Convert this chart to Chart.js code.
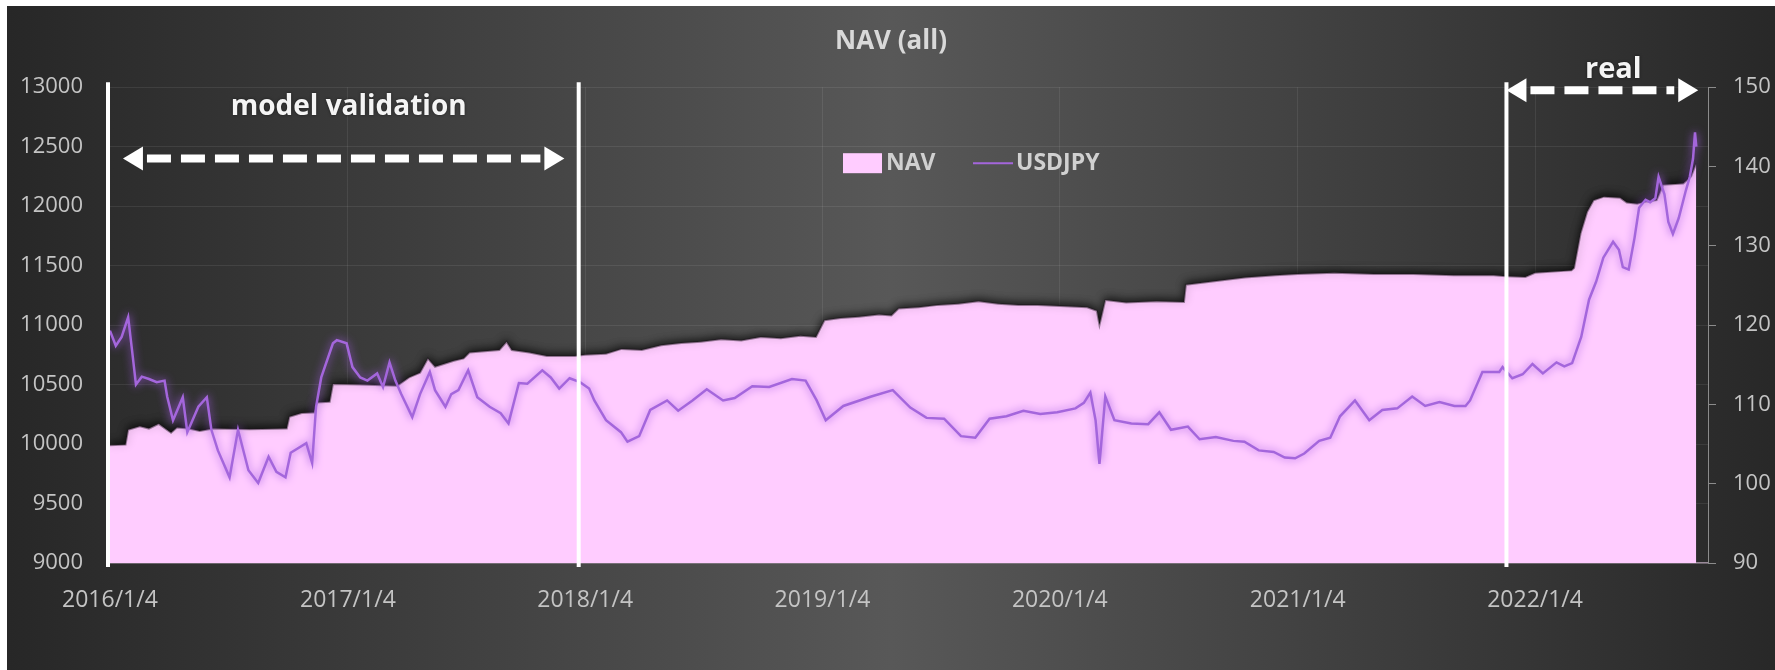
<!DOCTYPE html>
<html>
<head>
<meta charset="utf-8">
<title>NAV (all)</title>
<script src="https://cdn.jsdelivr.net/npm/chart.js@4.4.1/dist/chart.umd.min.js"></script>
<style>
  html, body { margin: 0; padding: 0; background: #ffffff; }
  #wrap { position: absolute; left: 7px; top: 6px; width: 1768px; height: 664px; }
</style>
</head>
<body>
<div id="wrap"><canvas id="navChart"></canvas></div>
<script>
// NAV (area, left axis)
const navDates = [
  "2016/1/4", "2016/1/28", "2016/2/1", "2016/2/19", "2016/3/4", "2016/3/19", "2016/4/7", "2016/4/16",
  "2016/5/4", "2016/5/21", "2016/6/11", "2016/8/6", "2016/10/2", "2016/10/6", "2016/10/25", "2016/11/13",
  "2016/11/17", "2016/12/7", "2016/12/12", "2017/1/22", "2017/3/21", "2017/4/8", "2017/4/25", "2017/5/7",
  "2017/5/18", "2017/6/16", "2017/7/1", "2017/7/10", "2017/8/25", "2017/9/5", "2017/9/13", "2017/10/10",
  "2017/11/6", "2017/12/19", "2018/1/4", "2018/2/5", "2018/3/1", "2018/4/1", "2018/5/1", "2018/6/1",
  "2018/7/1", "2018/8/1", "2018/9/1", "2018/10/1", "2018/11/1", "2018/12/1", "2018/12/25", "2019/1/7",
  "2019/2/1", "2019/3/1", "2019/4/1", "2019/4/20", "2019/5/1", "2019/6/1", "2019/7/1", "2019/8/1",
  "2019/9/1", "2019/10/1", "2019/11/1", "2019/12/1", "2020/1/4", "2020/2/15", "2020/3/1", "2020/3/5",
  "2020/3/14", "2020/4/15", "2020/6/1", "2020/7/13", "2020/7/16", "2020/9/1", "2020/10/15", "2020/12/1",
  "2021/1/4", "2021/3/1", "2021/5/1", "2021/7/1", "2021/9/1", "2021/11/1", "2021/11/20", "2021/12/20",
  "2022/1/4", "2022/3/1", "2022/3/5", "2022/3/15", "2022/3/25", "2022/4/4", "2022/4/20", "2022/5/15",
  "2022/5/25", "2022/6/10", "2022/6/25", "2022/7/10", "2022/7/20", "2022/8/20", "2022/9/1", "2022/9/9"
];
const navValues = [
  9990, 9995, 10120, 10150, 10130, 10170, 10095, 10140,
  10130, 10110, 10130, 10125, 10130, 10230, 10260, 10265,
  10350, 10355, 10505, 10500, 10490, 10560, 10600, 10720,
  10650, 10700, 10720, 10770, 10790, 10860, 10790, 10770,
  10740, 10740, 10750, 10760, 10800, 10790, 10830, 10850,
  10860, 10880, 10870, 10900, 10890, 10910, 10900, 11040,
  11060, 11070, 11090, 11080, 11140, 11150, 11170, 11180,
  11200, 11180, 11170, 11170, 11160, 11150, 11120, 11000,
  11210, 11190, 11200, 11195, 11340, 11370, 11400, 11420,
  11430, 11440, 11430, 11430, 11420, 11420, 11410, 11405,
  11440, 11460, 11480, 11770, 11950, 12050, 12080, 12070,
  12030, 12020, 12040, 12050, 12180, 12190, 12250, 12360
];

// USDJPY (line, right axis)
const fxDates = [
  "2016/1/4", "2016/1/13", "2016/1/22", "2016/2/1", "2016/2/7", "2016/2/13", "2016/2/22", "2016/3/4",
  "2016/3/16", "2016/3/28", "2016/4/1", "2016/4/10", "2016/4/25", "2016/5/2", "2016/5/19", "2016/6/1",
  "2016/6/8", "2016/6/18", "2016/7/6", "2016/7/19", "2016/8/4", "2016/8/19", "2016/9/4", "2016/9/16",
  "2016/9/30", "2016/10/8", "2016/11/1", "2016/11/10", "2016/11/16", "2016/11/24", "2016/12/12", "2016/12/18",
  "2017/1/2", "2017/1/11", "2017/1/23", "2017/2/3", "2017/2/18", "2017/2/27", "2017/3/9", "2017/3/18",
  "2017/3/27", "2017/4/13", "2017/4/25", "2017/5/10", "2017/5/18", "2017/6/3", "2017/6/12", "2017/6/23",
  "2017/7/8", "2017/7/22", "2017/8/10", "2017/8/27", "2017/9/8", "2017/9/24", "2017/10/7", "2017/10/30",
  "2017/11/12", "2017/11/25", "2017/12/11", "2017/12/27", "2018/1/10", "2018/1/18", "2018/2/5", "2018/2/28",
  "2018/3/10", "2018/3/28", "2018/4/14", "2018/5/10", "2018/5/27", "2018/6/18", "2018/7/10", "2018/8/4",
  "2018/8/22", "2018/9/18", "2018/10/14", "2018/11/18", "2018/12/9", "2018/12/26", "2019/1/9", "2019/2/5",
  "2019/3/20", "2019/4/22", "2019/5/19", "2019/6/13", "2019/7/10", "2019/8/5", "2019/8/27", "2019/9/18",
  "2019/10/14", "2019/11/9", "2019/12/5", "2019/12/31", "2020/1/28", "2020/2/10", "2020/2/20", "2020/2/28",
  "2020/3/5", "2020/3/14", "2020/3/28", "2020/4/23", "2020/5/19", "2020/6/5", "2020/6/23", "2020/7/19",
  "2020/8/6", "2020/8/31", "2020/9/27", "2020/10/14", "2020/11/5", "2020/11/28", "2020/12/15", "2020/12/31",
  "2021/1/14", "2021/2/6", "2021/2/23", "2021/3/10", "2021/4/2", "2021/4/24", "2021/5/14", "2021/6/6",
  "2021/6/29", "2021/7/19", "2021/8/10", "2021/9/2", "2021/9/19", "2021/9/26", "2021/10/15", "2021/11/10",
  "2021/11/15", "2021/11/30", "2021/12/16", "2021/12/31", "2022/1/16", "2022/2/6", "2022/2/18", "2022/3/2",
  "2022/3/16", "2022/3/28", "2022/4/8", "2022/4/19", "2022/5/4", "2022/5/13", "2022/5/19", "2022/5/28",
  "2022/6/6", "2022/6/13", "2022/6/23", "2022/6/30", "2022/7/8", "2022/7/13", "2022/7/22", "2022/7/28",
  "2022/8/4", "2022/8/13", "2022/8/24", "2022/8/30", "2022/9/4", "2022/9/7", "2022/9/9"
];
const fxValues = [
  119.3, 117.4, 118.5, 121.0, 116.8, 112.5, 113.5, 113.2,
  112.8, 113.0, 111.0, 108.0, 110.9, 106.5, 109.7, 110.9,
  106.8, 104.2, 100.8, 106.8, 101.7, 100.1, 103.4, 101.5,
  100.8, 103.9, 105.1, 102.6, 109.7, 113.4, 117.7, 118.1,
  117.7, 114.7, 113.4, 113.0, 113.9, 112.2, 115.3, 113.0,
  111.3, 108.4, 111.3, 114.1, 111.8, 109.7, 111.3, 111.8,
  114.3, 110.9, 109.7, 108.9, 107.6, 112.7, 112.6, 114.3,
  113.4, 112.0, 113.3, 112.8, 112.0, 110.5, 108.0, 106.5,
  105.3, 106.0, 109.3, 110.5, 109.2, 110.5, 111.9, 110.5,
  110.8, 112.3, 112.2, 113.2, 113.0, 110.5, 108.0, 109.8,
  111.0, 111.8, 109.6, 108.3, 108.2, 106.0, 105.8, 108.2,
  108.5, 109.2, 108.8, 109.0, 109.5, 110.2, 111.5, 108.0,
  102.5, 111.0, 108.0, 107.6, 107.5, 109.0, 106.8, 107.2,
  105.6, 105.9, 105.4, 105.3, 104.2, 104.0, 103.3, 103.2,
  103.8, 105.4, 105.8, 108.5, 110.5, 108.0, 109.3, 109.5,
  111.0, 109.8, 110.3, 109.8, 109.8, 110.5, 114.1, 114.1,
  114.7, 113.3, 113.8, 115.1, 113.9, 115.3, 114.8, 115.2,
  118.5, 123.2, 125.5, 128.5, 130.5, 129.5, 127.3, 127.0,
  131.0, 134.8, 135.8, 135.5, 136.0, 138.7, 136.5, 133.0,
  131.5, 133.5, 137.0, 138.7, 141.0, 144.3, 142.5
];

const yearTicks = ["2016/1/4", "2017/1/4", "2018/1/4", "2019/1/4", "2020/1/4", "2021/1/4", "2022/1/4"];
const navTicks = [9000, 9500, 10000, 10500, 11000, 11500, 12000, 12500, 13000];
const fxTicks = [90, 100, 110, 120, 130, 140, 150];

// period markers (white vertical lines) and the two dashed arrows
const periodLines = ["2016/1/1", "2017/12/25", "2021/11/21"];
const validationArrow = ["2016/1/24", "2017/12/3"];
const realArrow = ["2021/11/21", "2022/9/12"];

const BASE = Date.UTC(2016, 0, 4);
function toDay(s) {
  const [y, m, d] = s.split("/").map(Number);
  return (Date.UTC(y, m - 1, d) - BASE) / 86400000;
}

const FONT = "'Open Sans', 'DejaVu Sans', sans-serif";
const LABEL = "#c4c4c4";
const PINK = "#ffccff";
const PURPLE = "#a466dc";

const bgPlugin = {
  id: "bg",
  beforeDraw(chart) {
    const { ctx, width, height } = chart;
    const g = ctx.createLinearGradient(0, 0, width, 0);
    g.addColorStop(0, "#272727");
    g.addColorStop(0.5, "#585858");
    g.addColorStop(1, "#282828");
    ctx.save();
    ctx.fillStyle = g;
    ctx.fillRect(0, 0, width, height);
    ctx.restore();
  },
};

// shadow under the NAV area, soft glow around the USDJPY line
const glowPlugin = {
  id: "glow",
  beforeDatasetsDraw(chart) {
    const c = chart.ctx;
    c.save();
    c.shadowColor = "rgba(0,0,0,0.75)";
    c.shadowBlur = 8;
    c.shadowOffsetY = -2;
  },
  beforeDatasetDraw(chart, args) {
    if (args.index === 1) {
      const c = chart.ctx;
      c.shadowColor = "rgba(160,90,225,1)";
      c.shadowBlur = 9;
      c.shadowOffsetY = 0;
    }
  },
  afterDatasetsDraw(chart) {
    chart.ctx.restore();
  },
};

function arrow(ctx, x1, x2, y) {
  const head = 20, half = 12;
  ctx.save();
  ctx.strokeStyle = "#ffffff";
  ctx.fillStyle = "#ffffff";
  ctx.lineWidth = 8;
  ctx.setLineDash([24, 10]);
  ctx.beginPath();
  ctx.moveTo(x1 + head + 4, y);
  ctx.lineTo(x2 - head - 4, y);
  ctx.stroke();
  ctx.setLineDash([]);
  ctx.beginPath();
  ctx.moveTo(x1, y);
  ctx.lineTo(x1 + head, y - half);
  ctx.lineTo(x1 + head, y + half);
  ctx.closePath();
  ctx.fill();
  ctx.beginPath();
  ctx.moveTo(x2, y);
  ctx.lineTo(x2 - head, y - half);
  ctx.lineTo(x2 - head, y + half);
  ctx.closePath();
  ctx.fill();
  ctx.restore();
}

const notesPlugin = {
  id: "notes",
  afterDraw(chart) {
    const { ctx, chartArea } = chart;
    const xs = chart.scales.x;
    const ny = chart.scales.nav;
    ctx.save();
    ctx.strokeStyle = "#ffffff";
    ctx.lineWidth = 4;
    periodLines.forEach((d) => {
      const px = Math.max(xs.getPixelForValue(toDay(d)), chartArea.left);
      ctx.beginPath();
      ctx.moveTo(px, chartArea.top - 5);
      ctx.lineTo(px, chartArea.bottom + 4);
      ctx.stroke();
    });

    const va1 = xs.getPixelForValue(toDay(validationArrow[0]));
    const va2 = xs.getPixelForValue(toDay(validationArrow[1]));
    arrow(ctx, va1, va2, ny.getPixelForValue(12400));
    const ra1 = xs.getPixelForValue(toDay(realArrow[0]));
    const ra2 = xs.getPixelForValue(toDay(realArrow[1]));
    arrow(ctx, ra1, ra2, ny.getPixelForValue(12975));

    ctx.fillStyle = "#f4f4f4";
    ctx.shadowColor = "rgba(0,0,0,0.5)";
    ctx.shadowBlur = 3;
    ctx.textAlign = "center";
    ctx.textBaseline = "middle";
    ctx.font = "bold 28px " + FONT;
    ctx.fillText("model validation", (va1 + va2) / 2 + 5, ny.getPixelForValue(12830));
    ctx.font = "bold 29px " + FONT;
    ctx.fillText("real", (ra1 + ra2) / 2 + 11, ny.getPixelForValue(13145));
    ctx.restore();

    // legend, sitting inside the plot like the original
    const ds = chart.data.datasets;
    const lx = chartArea.left + 735;
    const ly = chartArea.top + 76;
    ctx.save();
    ctx.fillStyle = ds[0].backgroundColor;
    ctx.fillRect(lx, ly - 10, 39, 20);
    ctx.fillStyle = "#d0d0d0";
    ctx.font = "bold 23px " + FONT;
    ctx.textBaseline = "middle";
    ctx.fillText(ds[0].label, lx + 43, ly);
    ctx.strokeStyle = ds[1].borderColor;
    ctx.lineWidth = 2;
    ctx.beginPath();
    ctx.moveTo(lx + 130, ly);
    ctx.lineTo(lx + 170, ly);
    ctx.stroke();
    ctx.fillText(ds[1].label, lx + 173, ly);
    ctx.restore();
  },
};

new Chart(document.getElementById("navChart"), {
  type: "line",
  data: {
    datasets: [
      {
        label: "NAV",
        data: navDates.map((d, i) => ({ x: toDay(d), y: navValues[i] })),
        yAxisID: "nav",
        fill: "start",
        backgroundColor: PINK,
        borderColor: "rgba(30,22,30,0.45)",
        borderWidth: 2,
        pointRadius: 0,
        tension: 0,
        order: 2,
      },
      {
        label: "USDJPY",
        data: fxDates.map((d, i) => ({ x: toDay(d), y: fxValues[i] })),
        yAxisID: "fx",
        fill: false,
        borderColor: PURPLE,
        borderWidth: 2.5,
        pointRadius: 0,
        tension: 0,
        order: 1,
      },
    ],
  },
  plugins: [bgPlugin, glowPlugin, notesPlugin],
  options: {
    responsive: true,
    maintainAspectRatio: false,
    animation: false,
    layout: { padding: 0 },
    scales: {
      x: {
        type: "linear",
        min: toDay("2016/1/1"),
        max: toDay("2022/9/27"),
        afterBuildTicks: (s) => {
          s.ticks = yearTicks.map((t) => ({ value: toDay(t) }));
        },
        afterFit: (s) => {
          s.height = 107;
        },
        ticks: {
          callback: (v, i) => yearTicks[i],
          color: LABEL,
          font: { family: FONT, size: 23 },
          padding: 24,
          maxRotation: 0,
          autoSkip: false,
        },
        grid: { color: "rgba(255,255,255,0.08)", drawTicks: false },
        border: { color: "#9a8a9a", width: 1.5 },
      },
      nav: {
        type: "linear",
        position: "left",
        min: 9000,
        max: 13000,
        afterBuildTicks: (s) => {
          s.ticks = navTicks.map((v) => ({ value: v }));
        },
        afterFit: (s) => {
          s.width = 101;
        },
        ticks: {
          callback: (v) => String(v),
          color: LABEL,
          font: { family: FONT, size: 22 },
          padding: 25,
        },
        grid: { color: "rgba(255,255,255,0.08)", drawTicks: false },
        border: { display: false },
      },
      fx: {
        type: "linear",
        position: "right",
        min: 90,
        max: 150,
        afterBuildTicks: (s) => {
          s.ticks = fxTicks.map((v) => ({ value: v }));
        },
        afterFit: (s) => {
          s.width = 67;
        },
        ticks: {
          callback: (v) => String(v),
          color: LABEL,
          font: { family: FONT, size: 22 },
          padding: 17,
        },
        grid: { drawOnChartArea: false, color: "#8c8c8c", tickLength: 8 },
        border: { color: "#8c8c8c" },
      },
    },
    plugins: {
      legend: { display: false },
      tooltip: { enabled: false },
      title: {
        display: true,
        text: "NAV (all)",
        color: "#d9d9d9",
        font: { family: FONT, size: 26, weight: "bold" },
        padding: { top: 20, bottom: 30 },
      },
    },
  },
});
</script>
</body>
</html>
